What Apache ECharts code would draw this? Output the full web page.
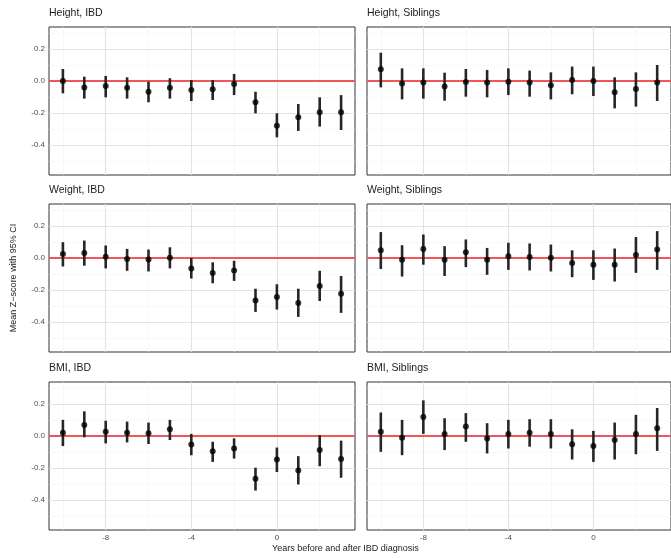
<!DOCTYPE html>
<html><head><meta charset="utf-8">
<script src="https://cdn.jsdelivr.net/npm/echarts@6/dist/echarts.min.js"></script>
<style>html,body{margin:0;padding:0;background:#fff}#c{width:671px;height:558px}</style>
</head><body><div id="c"></div>
<script>
// ---- data ----
const years = [-10,-9,-8,-7,-6,-5,-4,-3,-2,-1,0,1,2,3];
const xTicks = [-8,-4,0];
const xMinor = [-10,-6,-2,2];
const yTicks = [0.2,0,-0.2,-0.4];
const yMinor = [0.3,0.1,-0.1,-0.3,-0.5];
const panelTitles = ['Height, IBD','Height, Siblings','Weight, IBD','Weight, Siblings','BMI, IBD','BMI, Siblings'];

const heightIbdMean = [0.000,-0.040,-0.031,-0.042,-0.067,-0.042,-0.056,-0.052,-0.019,-0.133,-0.279,-0.227,-0.196,-0.196];
const heightIbdLow  = [-0.077,-0.110,-0.102,-0.110,-0.133,-0.110,-0.125,-0.119,-0.088,-0.202,-0.352,-0.312,-0.285,-0.306];
const heightIbdHigh = [0.075,0.027,0.031,0.023,-0.004,0.017,0.006,0.006,0.044,-0.067,-0.202,-0.144,-0.102,-0.088];

const heightSibMean = [0.073,-0.015,-0.010,-0.035,-0.006,-0.010,-0.004,-0.010,-0.027,0.006,0.000,-0.071,-0.050,-0.010];
const heightSibLow  = [-0.040,-0.115,-0.110,-0.123,-0.098,-0.102,-0.088,-0.098,-0.115,-0.083,-0.094,-0.171,-0.160,-0.125];
const heightSibHigh = [0.177,0.079,0.079,0.052,0.075,0.069,0.079,0.065,0.054,0.090,0.090,0.023,0.054,0.100];

const weightIbdMean = [0.025,0.032,0.008,-0.006,-0.010,0.002,-0.065,-0.093,-0.078,-0.265,-0.244,-0.282,-0.175,-0.223];
const weightIbdLow  = [-0.053,-0.048,-0.065,-0.080,-0.084,-0.065,-0.128,-0.158,-0.143,-0.337,-0.322,-0.368,-0.269,-0.343];
const weightIbdHigh = [0.099,0.109,0.078,0.057,0.053,0.067,0.000,-0.027,-0.017,-0.192,-0.164,-0.192,-0.080,-0.112];

const weightSibMean = [0.048,-0.011,0.057,-0.011,0.036,-0.011,0.011,0.006,0.002,-0.032,-0.042,-0.042,0.019,0.053];
const weightSibLow  = [-0.069,-0.116,-0.042,-0.112,-0.057,-0.105,-0.074,-0.078,-0.084,-0.120,-0.137,-0.147,-0.093,-0.074];
const weightSibHigh = [0.162,0.080,0.147,0.074,0.116,0.063,0.095,0.091,0.084,0.048,0.048,0.059,0.131,0.168];

const bmiIbdMean = [0.021,0.069,0.027,0.021,0.017,0.042,-0.053,-0.095,-0.078,-0.267,-0.147,-0.215,-0.088,-0.143];
const bmiIbdLow  = [-0.063,-0.008,-0.046,-0.040,-0.050,-0.025,-0.120,-0.162,-0.141,-0.341,-0.225,-0.303,-0.189,-0.261];
const bmiIbdHigh = [0.101,0.154,0.095,0.090,0.084,0.101,0.013,-0.036,-0.015,-0.198,-0.072,-0.126,0.006,-0.029];

const bmiSibMean = [0.027,-0.011,0.118,0.013,0.059,-0.015,0.013,0.021,0.013,-0.051,-0.063,-0.025,0.013,0.048];
const bmiSibLow  = [-0.099,-0.120,0.013,-0.088,-0.036,-0.109,-0.078,-0.067,-0.078,-0.147,-0.162,-0.147,-0.114,-0.093];
const bmiSibHigh = [0.147,0.101,0.223,0.111,0.143,0.080,0.101,0.105,0.105,0.042,0.032,0.084,0.132,0.175];

const panels = [
  [heightIbdMean, heightIbdLow, heightIbdHigh],
  [heightSibMean, heightSibLow, heightSibHigh],
  [weightIbdMean, weightIbdLow, weightIbdHigh],
  [weightSibMean, weightSibLow, weightSibHigh],
  [bmiIbdMean, bmiIbdLow, bmiIbdHigh],
  [bmiSibMean, bmiSibLow, bmiSibHigh]
];

// ---- layout ----
const colLeft = [49, 367];
const rowTop = [27, 204, 382];
const panelW = 306, panelH = 148;
const X_MIN = -10.65, X_MAX = 3.65, Y_MIN = -0.5875, Y_MAX = 0.3375;
const FONT = 'Liberation Sans, Arial, sans-serif';

const grids = [], xAxes = [], yAxes = [], series = [], titles = [];
panels.forEach((p, i) => {
  const col = i % 2, row = Math.floor(i / 2);
  grids.push({left: colLeft[col], top: rowTop[row], width: panelW, height: panelH,
    show: true, borderColor: '#333333', borderWidth: 1, backgroundColor: '#ffffff', containLabel: false});
  const bottomRow = row === 2, leftCol = col === 0;
  xAxes.push({type: 'value', gridIndex: i, min: X_MIN, max: X_MAX,
    axisLine: {show: false}, splitLine: {show: false},
    axisTick: {show: bottomRow, customValues: xTicks, length: 3, lineStyle: {color: '#333333'}},
    axisLabel: {show: bottomRow, customValues: xTicks, color: '#4d4d4d', fontSize: 8, fontFamily: FONT, margin: 4,
      formatter: v => String(v)}
  });
  yAxes.push({type: 'value', gridIndex: i, min: Y_MIN, max: Y_MAX,
    axisLine: {show: false}, splitLine: {show: false},
    axisTick: {show: leftCol, customValues: yTicks, length: 3, lineStyle: {color: '#333333'}},
    axisLabel: {show: leftCol, customValues: yTicks, color: '#4d4d4d', fontSize: 8, fontFamily: FONT, margin: 4,
      formatter: v => v.toFixed(1)},
    name: (i === 2) ? 'Mean Z\u2212score with 95% CI' : '',
    nameLocation: 'middle', nameGap: 31, nameRotate: 90,
    nameTextStyle: {color: '#1a1a1a', fontSize: 9, fontFamily: FONT}
  });
  titles.push({text: panelTitles[i], left: colLeft[col], top: rowTop[row] - 19,
    textStyle: {fontSize: 10.5, fontWeight: 'normal', color: '#1a1a1a', fontFamily: FONT}, padding: 0});

  const ml = (data, color, width, z) => ({silent: true, symbol: ['none','none'], animation: false, z,
    label: {show: false}, emphasis: {disabled: true}, lineStyle: {color, width, type: 'solid'}, data});
  // minor gridlines
  series.push({type: 'scatter', xAxisIndex: i, yAxisIndex: i, data: [], z: 1, silent: true,
    markLine: ml(xMinor.map(v => ({xAxis: v})).concat(yMinor.map(v => ({yAxis: v}))), '#f3f3f3', 0.6, 1)});
  // major gridlines
  series.push({type: 'scatter', xAxisIndex: i, yAxisIndex: i, data: [], z: 1, silent: true,
    markLine: ml(xTicks.map(v => ({xAxis: v})).concat(yTicks.map(v => ({yAxis: v}))), '#e2e2e2', 1.1, 1)});
  // red reference line
  series.push({type: 'scatter', xAxisIndex: i, yAxisIndex: i, data: [], z: 2, silent: true,
    markLine: ml([{yAxis: 0}], '#f25555', 2, 2)});
  // error bars (filled rects between lower and upper CI)
  series.push({type: 'custom', xAxisIndex: i, yAxisIndex: i, z: 3, silent: true, animation: false,
    data: years.map((y, k) => [y, p[1][k], p[2][k]]),
    encode: {x: 0, y: [1, 2]},
    renderItem: (params, api) => {
      const a = api.coord([api.value(0), api.value(1)]);
      const b = api.coord([api.value(0), api.value(2)]);
      return {type: 'rect', shape: {x: a[0] - 1.3, y: b[1], width: 2.6, height: a[1] - b[1]},
        style: {fill: '#262626'}};
    }});
  // points
  series.push({type: 'scatter', xAxisIndex: i, yAxisIndex: i, z: 4, silent: true,
    symbol: 'circle', symbolSize: 6, itemStyle: {color: '#000000'},
    data: years.map((y, k) => [y, p[0][k]])});
});

const chart = echarts.init(document.getElementById('c'), null, {renderer: 'canvas'});
chart.setOption({
  animation: false,
  backgroundColor: '#ffffff',
  title: titles,
  grid: grids, xAxis: xAxes, yAxis: yAxes, series,
  graphic: [{type: 'text', left: 362 - 90, top: 544,
    style: {text: 'Years before and after IBD diagnosis', fill: '#1a1a1a', fontSize: 9, fontFamily: FONT}}]
});
</script></body></html>
